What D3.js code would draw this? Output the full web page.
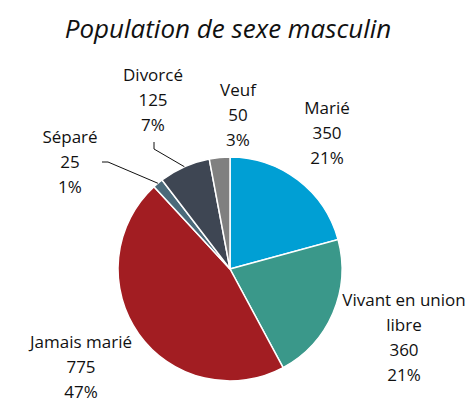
<!DOCTYPE html>
<html>
<head>
<meta charset="utf-8">
<script src="https://cdn.jsdelivr.net/npm/d3@7"></script>
<style>
  body { margin: 0; background: #fff; }
  text { font-family: "Open Sans", sans-serif; fill: #111; }
</style>
</head>
<body>
<div id="chart"></div>
<script>
const categories = ["Marié", "Vivant en union libre", "Jamais marié", "Séparé", "Divorcé", "Veuf"];
const values = [350, 360, 775, 25, 125, 50];
const percents = ["21%", "21%", "47%", "1%", "7%", "3%"];
const colors = ["#009fd4", "#3a988a", "#a21d22", "#4b6a7a", "#3e4653", "#808080"];

const ctx = {
    w: 474, h: 403,
    cx: 230, cy: 269, r: 112,
    lineH: 25
};

// label layout: centre x, baseline of first line, wrapped lines, optional leader elbow
const labelLayout = {
    "Marié": {x: 327, y: 114, lines: ["Marié"]},
    "Vivant en union libre": {x: 404, y: 306, lines: ["Vivant en union", "libre"]},
    "Jamais marié": {x: 81, y: 348, lines: ["Jamais marié"]},
    "Séparé": {x: 70, y: 143, lines: ["Séparé"], leader: [[102, 162], [108, 162]]},
    "Divorcé": {x: 153, y: 81, lines: ["Divorcé"], leader: [[154, 142], [154, 149]]},
    "Veuf": {x: 238, y: 96, lines: ["Veuf"]}
};

let svg = d3.select("#chart").append("svg")
    .attr("width", ctx.w)
    .attr("height", ctx.h);

svg.append("text")
    .attr("x", 228)
    .attr("y", 38)
    .attr("text-anchor", "middle")
    .style("font-size", "26px")
    .style("font-style", "italic")
    .text("Population de sexe masculin");

let data = categories.map((c, i) => ({name: c, value: values[i], pct: percents[i], color: colors[i]}));

let pie = d3.pie().sort(null).value(d => d.value);
let arc = d3.arc().innerRadius(0).outerRadius(ctx.r);
let arcs = pie(data);

let pieG = svg.append("g")
    .attr("transform", "translate(" + ctx.cx + "," + ctx.cy + ")");

pieG.selectAll("path")
    .data(arcs)
    .enter()
    .append("path")
    .attr("d", arc)
    .attr("fill", d => d.data.color)
    .attr("stroke", "#fff")
    .attr("stroke-width", 1.5);

// leader lines
arcs.forEach(a => {
    let lay = labelLayout[a.data.name];
    if (!lay.leader) return;
    let mid = (a.startAngle + a.endAngle) / 2;
    let end = [ctx.cx + ctx.r * Math.sin(mid), ctx.cy - ctx.r * Math.cos(mid)];
    let pts = lay.leader.concat([end]);
    svg.append("path")
        .attr("d", d3.line()(pts))
        .attr("fill", "none")
        .attr("stroke", "#111")
        .attr("stroke-width", 1);
});

// labels
arcs.forEach(a => {
    let lay = labelLayout[a.data.name];
    let lines = lay.lines.concat([String(a.data.value), a.data.pct]);
    let t = svg.append("text")
        .attr("text-anchor", "middle")
        .style("font-size", "17px");
    lines.forEach((l, i) => {
        t.append("tspan")
            .attr("x", lay.x)
            .attr("y", lay.y + i * ctx.lineH)
            .text(l);
    });
});
</script>
</body>
</html>
